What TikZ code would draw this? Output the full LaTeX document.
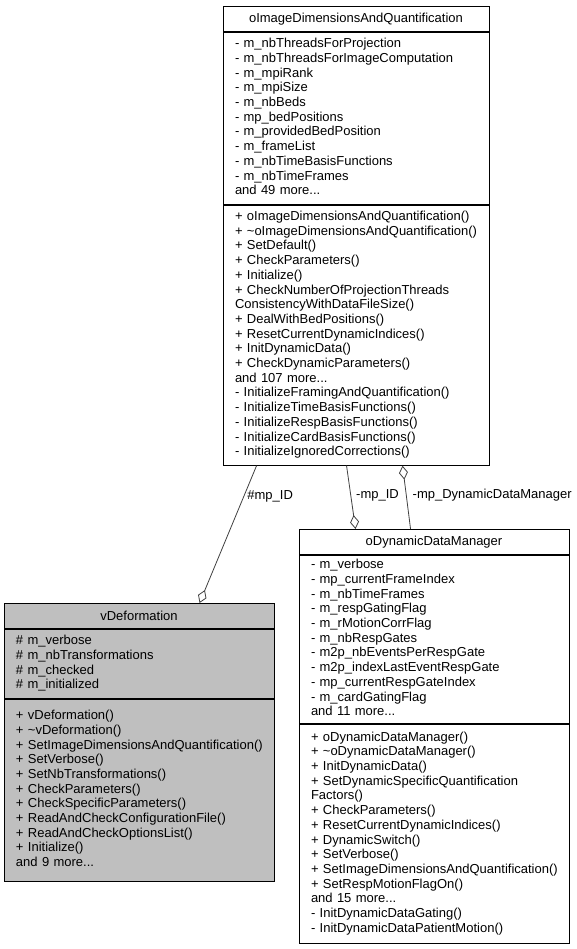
\documentclass[tikz,border=0pt]{standalone}
\usepackage{fontspec}
\setmainfont{Liberation Sans}
\usetikzlibrary{positioning,arrows.meta}
\definecolor{edgegray}{HTML}{404040}
\definecolor{basegray}{HTML}{BFBFBF}
\newcommand{\umlfont}{\fontsize{13}{14.7}\selectfont}
\newcommand{\members}[1]{\begin{tabular}{@{}l@{}}#1\end{tabular}}

\begin{document}
\begin{tikzpicture}[x=1pt,y=1pt,
	class title/.style={draw=black,line width=0.9pt,fill=white,minimum height=25pt,inner sep=0pt,font=\umlfont,anchor=north},
	class part/.style={draw=black,line width=0.9pt,fill=white,inner xsep=12pt,inner ysep=0pt,align=left,font=\umlfont},
	aggregation/.style={draw=edgegray,line width=0.8pt,-{Diamond[open,fill=white,length=14pt,width=9pt]}},
	role/.style={font=\umlfont,inner sep=0pt,anchor=west}]
	\useasboundingbox (0,0) rectangle (577,-949);
	% oImageDimensionsAndQuantification
	\node[class title,minimum width=266pt] (topt) at (356,-6) {oImageDimensionsAndQuantification};
	\node[class part,below=0pt of topt,minimum width=266pt,text width=242pt,minimum height=172pt] (topa) {\members{%
		- m\_nbThreadsForProjection\\
		- m\_nbThreadsForImageComputation\\
		- m\_mpiRank\\
		- m\_mpiSize\\
		- m\_nbBeds\\
		- mp\_bedPositions\\
		- m\_providedBedPosition\\
		- m\_frameList\\
		- m\_nbTimeBasisFunctions\\
		- m\_nbTimeFrames\\
		and 49 more...}};
	\node[class part,below=0pt of topa,minimum width=266pt,text width=242pt,minimum height=260pt] (topm) {\members{%
		+ oImageDimensionsAndQuantification()\\
		+ \textasciitilde oImageDimensionsAndQuantification()\\
		+ SetDefault()\\
		+ CheckParameters()\\
		+ Initialize()\\
		+ CheckNumberOfProjectionThreads\\
		ConsistencyWithDataFileSize()\\
		+ DealWithBedPositions()\\
		+ ResetCurrentDynamicIndices()\\
		+ InitDynamicData()\\
		+ CheckDynamicParameters()\\
		and 107 more...\\
		- InitializeFramingAndQuantification()\\
		- InitializeTimeBasisFunctions()\\
		- InitializeRespBasisFunctions()\\
		- InitializeCardBasisFunctions()\\
		- InitializeIgnoredCorrections()}};
	% vDeformation
	\node[class title,fill=basegray,minimum width=270pt] (vdeft) at (139,-603) {vDeformation};
	\node[class part,fill=basegray,below=0pt of vdeft,minimum width=270pt,text width=246pt,minimum height=69pt] (vdefa) {\members{%
		\# m\_verbose\\
		\# m\_nbTransformations\\
		\# m\_checked\\
		\# m\_initialized}};
	\node[class part,fill=basegray,below=0pt of vdefa,minimum width=270pt,text width=246pt,minimum height=182pt] (vdefm) {\members{%
		+ vDeformation()\\
		+ \textasciitilde vDeformation()\\
		+ SetImageDimensionsAndQuantification()\\
		+ SetVerbose()\\
		+ SetNbTransformations()\\
		+ CheckParameters()\\
		+ CheckSpecificParameters()\\
		+ ReadAndCheckConfigurationFile()\\
		+ ReadAndCheckOptionsList()\\
		+ Initialize()\\
		and 9 more...}};
	% oDynamicDataManager
	\node[class title,minimum width=270pt] (dynt) at (434,-529) {oDynamicDataManager};
	\node[class part,below=0pt of dynt,minimum width=270pt,text width=246pt,minimum height=168pt] (dyna) {\members{%
		- m\_verbose\\
		- mp\_currentFrameIndex\\
		- m\_nbTimeFrames\\
		- m\_respGatingFlag\\
		- m\_rMotionCorrFlag\\
		- m\_nbRespGates\\
		- m2p\_nbEventsPerRespGate\\
		- m2p\_indexLastEventRespGate\\
		- mp\_currentRespGateIndex\\
		- m\_cardGatingFlag\\
		and 11 more...}};
	\node[class part,below=0pt of dyna,minimum width=270pt,text width=246pt,minimum height=219pt] (dynm) {\members{%
		+ oDynamicDataManager()\\
		+ \textasciitilde oDynamicDataManager()\\
		+ InitDynamicData()\\
		+ SetDynamicSpecificQuantification\\
		Factors()\\
		+ CheckParameters()\\
		+ ResetCurrentDynamicIndices()\\
		+ DynamicSwitch()\\
		+ SetVerbose()\\
		+ SetImageDimensionsAndQuantification()\\
		+ SetRespMotionFlagOn()\\
		and 15 more...\\
		- InitDynamicDataGating()\\
		- InitDynamicDataPatientMotion()}};
	% usage relations
	\draw[aggregation] ([xshift=34pt]topm.south west) -- node[role,pos=0.22,xshift=3pt] {\#mp\_ID} ([xshift=196pt]vdeft.north west);
	\draw[aggregation] ([xshift=124pt]topm.south west) -- node[role,pos=0.47,xshift=5pt] {-mp\_ID} ([xshift=57pt]dynt.north west);
	\draw[aggregation] ([xshift=112pt]dynt.north west) -- node[role,pos=0.53,xshift=6pt] {-mp\_DynamicDataManager} ([xshift=180pt]topm.south west);
\end{tikzpicture}
\end{document}
